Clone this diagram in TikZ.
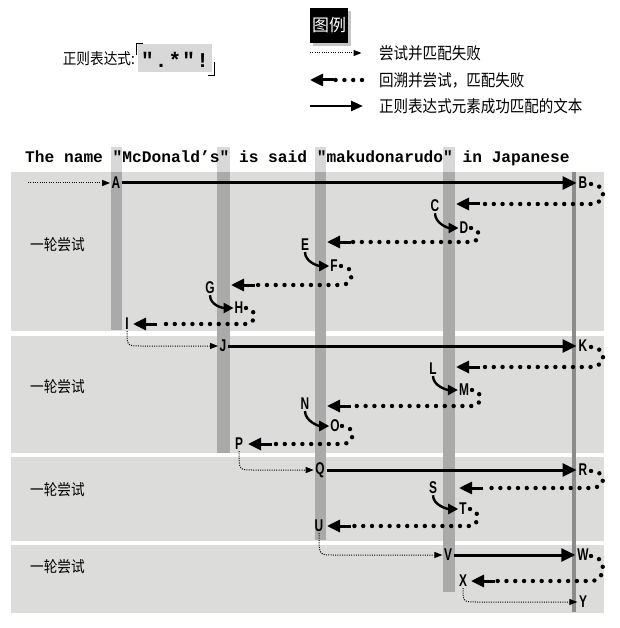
\documentclass[tikz,border=0pt]{standalone}
\usepackage{fontspec}
\setmainfont{Liberation Sans}
\newfontfamily\cjk{Noto Sans CJK SC}
\newfontfamily\monof{Liberation Mono}
\newfontfamily\labf{Liberation Sans}
\usetikzlibrary{arrows.meta,calc,shadows}
\definecolor{bandgray}{HTML}{DCDCDA}
\definecolor{colgray}{HTML}{AAAAAA}
\definecolor{hlgray}{HTML}{D8D8D8}
\definecolor{thingray}{HTML}{8C8C8C}
\newcommand\rc[1]{\makebox[13.8pt]{#1}}
\newcommand\loopback[6]{% #1 sx, #2 sy, #3 rx, #4 arrow y, #5 tip x, #6 name
  \coordinate (#6) at (#5,#4);
  \draw[bigdots] (#1,#2) .. controls (#3,#2) and (#3,#4) .. (#1,#4) -- (#5+26,#4);
  \draw[backhead] (#5+24,#4) -- (#6);
}
\tikzset{
  lbl/.style={font=\labf\bfseries\fontsize{17}{17}\selectfont, inner sep=0pt, xscale=0.7},
  cjktext/.style={font=\cjk\fontsize{15.5}{16}\selectfont, inner sep=0pt, xscale=0.88},
  legtext/.style={font=\cjk\fontsize{16.5}{16}\selectfont, inner sep=0pt, anchor=west, xscale=0.88},
  solidarrow/.style={line width=3pt, -{Triangle[length=14pt,width=13pt]}, shorten >=2pt, shorten <=2pt},
  bigdots/.style={line width=4.4pt, line cap=round, dash pattern=on 0pt off 8.8pt},
  backhead/.style={line width=3pt, -{Triangle[length=13pt,width=12pt]}},
  trydots/.style={line width=1pt, dash pattern=on 1pt off 1.3pt, -{Triangle[length=8pt,width=6pt]}, shorten >=1.5pt},
  curvarrow/.style={line width=2.4pt, -{Triangle[length=10pt,width=10pt]}, shorten >=1pt, shorten <=1pt},
  band/.style={fill=bandgray, draw=none},
  column/.style={fill=colgray, draw=none},
  hl/.style={fill=hlgray, draw=none}
}
\begin{document}
\begin{tikzpicture}[x=1pt,y=-1pt]
\useasboundingbox[fill=white] (0,0) rectangle (619,628);

% regex label
\node[cjktext, anchor=east] (rlab) at (135,59) {正则表达式:};
\fill[hlgray] (138,44) rectangle (212,72);
\node[inner sep=0pt, font=\monof\bfseries\fontsize{21}{21}\selectfont] (rx) at (175,60) {\rc{"}\rc{.}\rc{*}\rc{"}\rc{!}};
\draw[line width=0.9pt] (143,43) -- (136,43) -- (136,55);
\draw[line width=0.9pt] (214,62) -- (214,75) -- (208,75);

% legend
\node[fill=black, minimum width=38pt, minimum height=35pt, inner sep=0pt,
      drop shadow={opacity=0.45, shadow xshift=3pt, shadow yshift=-3pt},
      text=white, font=\cjk\fontsize{17}{17}\selectfont] (leg) at (329,25.5) {图例};
\coordinate (l1a) at (310,53); \coordinate (l1b) at (363,53);
\draw[trydots] (l1a) -- (l1b);
\node[legtext] (lt1) at (379,53) {尝试并匹配失败};
\coordinate (l2a) at (362,80); \coordinate (l2b) at (310,80);
\draw[bigdots] (l2a) -- (333,80);
\draw[backhead] (334,80) -- (l2b);
\node[legtext] (lt2) at (379,80) {回溯并尝试，匹配失败};
\coordinate (l3a) at (310,106); \coordinate (l3b) at (363,106);
\draw[line width=2.4pt, -{Triangle[length=12pt,width=10pt]}] (l3a) -- (l3b);
\node[legtext] (lt3) at (379,106) {正则表达式元素成功匹配的文本};

% bands
\fill[band] (11,172) rectangle (604,331);
\fill[band] (11,336) rectangle (604,453);
\fill[band] (11,457) rectangle (604,541);
\fill[band] (11,545) rectangle (604,613);

% quote highlights above bands
\fill[hl] (111,147) rectangle (122,172);
\fill[hl] (217,147) rectangle (230,172);
\fill[hl] (315,147) rectangle (326,172);
\fill[hl] (443,147) rectangle (455,172);

% columns
\fill[column] (111,172) rectangle (122,330);
\fill[column] (217,172) rectangle (230,453);
\fill[column] (315,172) rectangle (326,540);
\fill[column] (443,172) rectangle (455,592);
\fill[thingray] (572,172) rectangle (576,612);

% sentence
\node[anchor=base west, inner sep=0pt, font=\monof\bfseries\fontsize{16.2}{18}\selectfont] (sent) at (25,163)
  {The name "McDonald’s" is said "makudonarudo" in Japanese};

% round labels
\node[cjktext, anchor=west] (r1) at (30,245) {一轮尝试};
\node[cjktext, anchor=west] (r2) at (30,387) {一轮尝试};
\node[cjktext, anchor=west] (r3) at (30,490) {一轮尝试};
\node[cjktext, anchor=west] (r4) at (30,567) {一轮尝试};

% letter nodes
\node[lbl] (A) at (116,183) {A};
\node[lbl] (B) at (583,183) {B};
\node[lbl] (C) at (435,206) {C};
\node[lbl] (D) at (464,228) {D};
\node[lbl] (E) at (305,245) {E};
\node[lbl] (F) at (334,266) {F};
\node[lbl] (G) at (210,288) {G};
\node[lbl] (H) at (239,308) {H};
\node[lbl] (I) at (127,324) {I};
\node[lbl] (J) at (223,346) {J};
\node[lbl] (K) at (583,346) {K};
\node[lbl] (L) at (433,369) {L};
\node[lbl] (M) at (464,390) {M};
\node[lbl] (N) at (305,404) {N};
\node[lbl] (O) at (335,426) {O};
\node[lbl] (P) at (239,444) {P};
\node[lbl] (Q) at (320,470) {Q};
\node[lbl] (R) at (583,470) {R};
\node[lbl] (S) at (433,488) {S};
\node[lbl] (T) at (463,509) {T};
\node[lbl] (U) at (319,526) {U};
\node[lbl] (V) at (448,555) {V};
\node[lbl] (W) at (583,555) {W};
\node[lbl] (X) at (463,581) {X};
\node[lbl] (Y) at (583,602) {Y};

% start
\coordinate (s0) at (28,183);
\draw[trydots] (s0) -- (A.west);

% solid matches
\draw[solidarrow] (A.east) -- (B.west);
\draw[solidarrow] (J.east) -- (K.west);
\draw[solidarrow] (Q.east) -- (R.west);
\draw[solidarrow] (V.east) -- (W.west);

% backtracking loops
\loopback{591}{184}{607}{204}{456}{tC}
\loopback{471}{228}{481}{242}{327}{tE}
\loopback{341}{266}{355}{285}{231}{tG}
\loopback{246}{308}{257}{324}{133}{tI}
\loopback{591}{347}{607}{367}{456}{tL}
\loopback{472}{390}{483}{406}{327}{tN}
\loopback{342}{426}{356}{444}{248}{tP}
\loopback{591}{471}{607}{488}{459}{tS}
\loopback{470}{509}{480}{526}{327}{tU}
\loopback{591}{556}{607}{581}{471}{tX}

% curved arrows
\foreach \p/\q in {C/D,E/F,G/H,L/M,N/O,S/T}{
  \draw[curvarrow] (\p.south) .. controls ($(\p.south)+(0,11)$) and ($(\q.west)+(-12,0)$) .. (\q.west);
}

% new attempts
\foreach \p/\q in {I/J,P/Q,U/V,X/Y}{
  \draw[trydots] ($(\p.south)+(0,1)$) .. controls ($(\p.south |- \q.west)$) .. ($(\p.south |- \q.west)+(14,0)$) -- (\q.west);
}
\end{tikzpicture}
\end{document}
